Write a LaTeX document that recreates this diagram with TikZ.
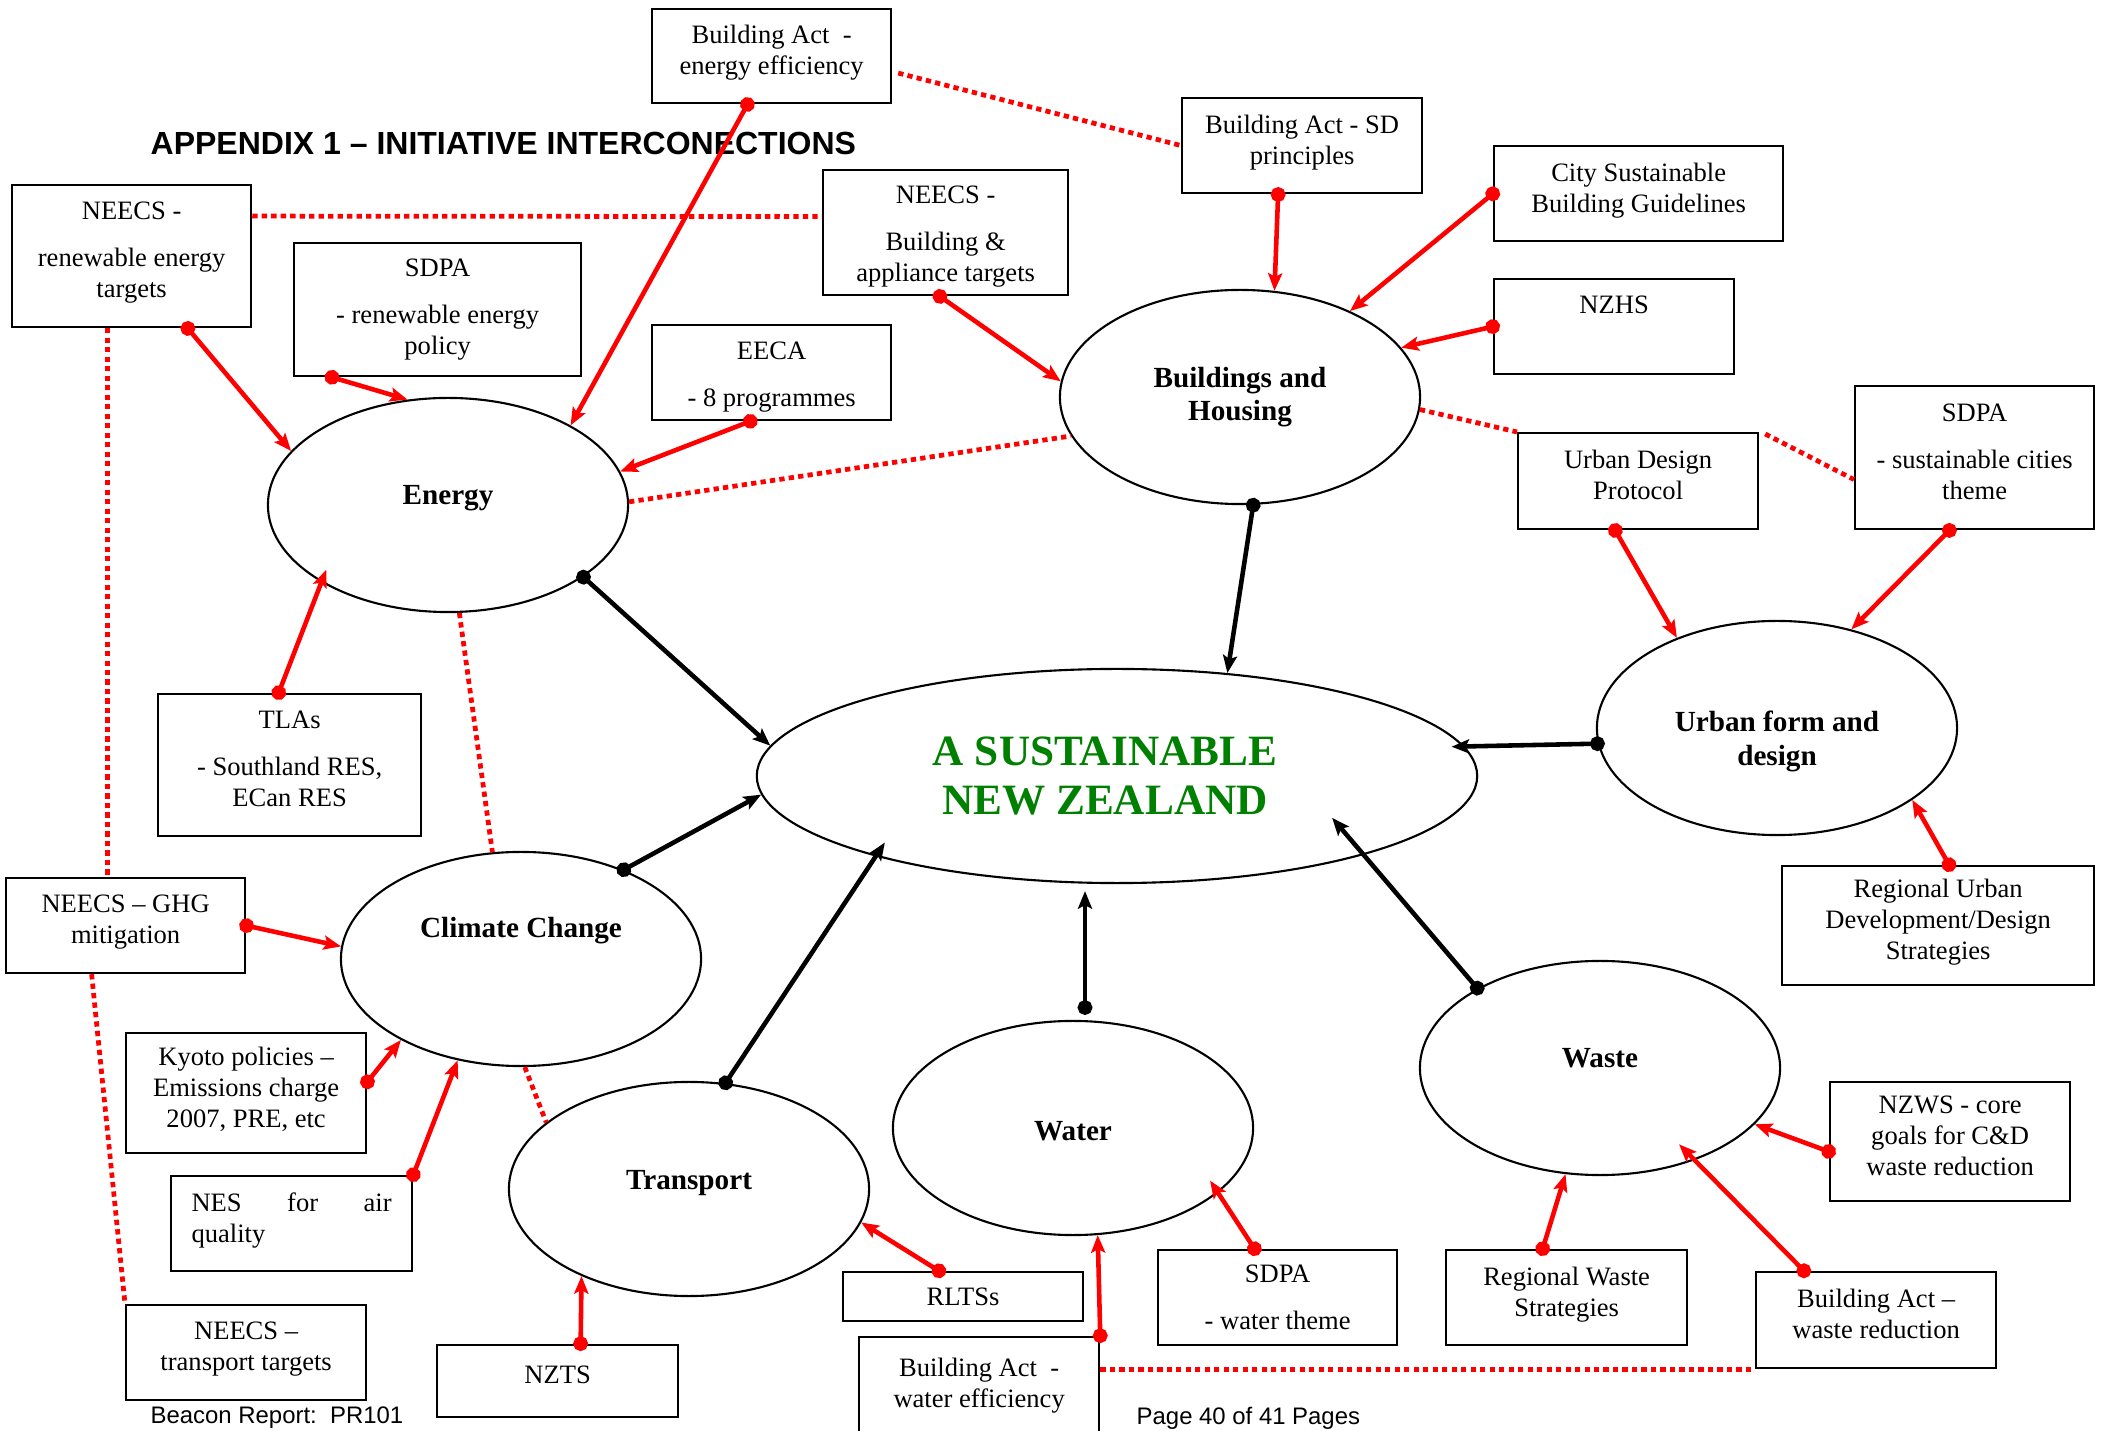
\documentclass[tikz,border=0pt]{standalone}
\usepackage{fontspec}
\setmainfont{Liberation Serif}
\newfontfamily\arialfont{Liberation Sans}
\usetikzlibrary{arrows.meta, calc, shapes.geometric}

\begin{document}
\begin{tikzpicture}[x=0.01cm, y=-0.01cm,
    boxtail/.store in=\boxtaildepth, boxtail=3.5pt,
    ibox/.style={draw, line width=0.6pt, anchor=north west, align=center, inner sep=1pt,
        minimum width=2.4cm, minimum height=0.95cm, font=\fontsize{7.55}{8.8}\selectfont,
        execute at end node={\rule[-\boxtaildepth]{0pt}{0pt}}},
    plain/.style={boxtail=0pt},
    topic/.style={draw, ellipse, line width=0.6pt, inner sep=0pt, minimum width=3.6cm,
        minimum height=2.14cm, align=center, font=\fontsize{8.3}{9.6}\selectfont\bfseries},
    feed/.style={red, line width=1.3pt, shorten <=-2pt,
        {Circle[length=4.2pt]}-{Stealth[length=5pt,width=4pt,inset=1pt]}},
    link/.style={feed, black},
    rel/.style={red, line width=1.35pt, dash pattern=on 1.5pt off 1.2pt}]
    \useasboundingbox (0,0) rectangle (2105,1431);

    % Title and footer
    \node[anchor=west, inner sep=0pt, font=\arialfont\fontsize{9.1}{10}\selectfont\bfseries] (title) at (150,143)
        {APPENDIX 1 \textendash{} INITIATIVE INTERCONECTIONS};
    \node[anchor=west, inner sep=0pt, font=\arialfont\fontsize{6.8}{8}\selectfont] (report) at (150,1418) {Beacon Report:\ \ PR101};
    \node[anchor=west, inner sep=0pt, font=\arialfont\fontsize{6.8}{8}\selectfont] (page) at (1136,1418) {Page 40 of 41 Pages};

    % Topic ellipses
    \node[topic, minimum width=7.2cm, font=\fontsize{12.3}{14}\selectfont\bfseries, text=green!50!black]
        (core) at (1117,776) {A SUSTAINABLE\hspace*{0.24cm}\\NEW ZEALAND\hspace*{0.24cm}};
    \node[topic, text height=6pt, text depth=6pt] (energy) at (448,505) {Energy};
    \node[topic] (bldg) at (1240,397) {Buildings and\\Housing};
    \node[topic] (urban) at (1777,728) {\rule{0pt}{13.4pt}Urban form and\\design};
    \node[topic, text height=6pt, text depth=18pt] (climate) at (521,959) {Climate Change};
    \node[topic, text height=6pt, text depth=6pt] (transport) at (689,1189) {Transport};
    \node[topic, text height=8pt, text depth=1pt] (water) at (1073,1128) {Water};
    \node[topic, text height=6pt, text depth=6pt] (waste) at (1600,1068) {Waste};

    % Initiative boxes
    \node[ibox, minimum width=2.39cm, minimum height=0.94cm] (baee) at (651,8) {Building Act\ \ -\\energy efficiency};
    \node[ibox] (basd) at (1181,97) {Building Act - SD\\principles};
    \node[ibox, minimum width=2.89cm] (csbg) at (1493,145) {City Sustainable\\Building Guidelines};
    \node[ibox] (nzhs) at (1493,278) {NZHS\\ \strut};
    \node[ibox, plain, minimum width=2.45cm, minimum height=1.25cm] (neecsba) at (822,169) {\rule{0pt}{7.2pt}NEECS -\\[4.5pt]Building \&\\appliance targets};
    \node[ibox, minimum width=2.39cm, minimum height=1.42cm] (neecsre) at (11,184) {NEECS -\\[4.5pt]renewable energy\\targets};
    \node[ibox, plain, minimum width=2.87cm, minimum height=1.33cm] (sdpare) at (293,242) {SDPA\\[4.5pt]- renewable energy\\policy};
    \node[ibox, plain, minimum width=2.39cm] (eeca) at (651,324) {\rule{0pt}{7.4pt}EECA\\[4.5pt]- 8 programmes};
    \node[ibox, minimum height=0.96cm] (udp) at (1517,432) {Urban Design\\Protocol};
    \node[ibox, minimum width=2.39cm, minimum height=1.43cm] (sdpasc) at (1854,385) {SDPA\\[4.5pt]- sustainable cities\\theme};
    \node[ibox, minimum width=2.63cm, minimum height=1.42cm] (tlas) at (157,693) {TLAs\\[4.5pt]- Southland RES,\\ECan RES};
    \node[ibox, minimum width=2.39cm] (ghg) at (5,877) {NEECS -- GHG\\mitigation};
    \node[ibox, minimum height=1.2cm] (kyoto) at (125,1032) {Kyoto policies --\\Emissions charge\\2007, PRE, etc};
    \node[ibox, minimum width=2.41cm, align=left, text width=2cm] (nes) at (170,1175) {NES\hfill for\hfill air\\quality};
    \node[ibox] (neecst) at (125,1304) {NEECS --\\transport targets};
    \node[ibox, minimum width=2.41cm, minimum height=0.72cm] (nzts) at (436,1344) {NZTS};
    \node[ibox, plain, minimum height=0.49cm] (rltss) at (842,1271) {RLTSs};
    \node[ibox, minimum height=1.04cm] (bawe) at (858,1336) {Building Act\ \ -\\water efficiency};
    \node[ibox, plain, minimum width=2.39cm] (sdpaw) at (1157,1249) {SDPA\\[4.5pt]- water theme};
    \node[ibox, minimum width=2.41cm] (rws) at (1445,1249) {Regional Waste\\Strategies};
    \node[ibox, minimum height=0.96cm] (bawr) at (1755,1271) {Building Act --\\waste reduction};
    \node[ibox, minimum height=1.19cm] (nzws) at (1829,1081) {NZWS - core\\goals for C\&D\\waste reduction};
    \node[ibox, minimum width=3.12cm, minimum height=1.19cm] (rud) at (1781,865) {Regional Urban\\Development/Design\\Strategies};

    % Dotted cross links
    \draw[rel] ($(baee.east)+(6,17)$) -- (basd.west);
    \draw[rel] ($(neecsre.east)+(0,-40)$) -- ($(neecsba.west)+(0,-16)$);
    \draw[rel] (energy.1) -- (bldg.193);
    \draw[rel] (bldg.-4) -- (udp.north west);
    \draw[rel] ($(udp.north east)+(6,2)$) -- ($(sdpasc.west)+(0,22)$);
    \draw[rel] ($(neecsre.south)+(-24,0)$) -- ($(ghg.north)+(-18,0)$);
    \draw[rel] ($(ghg.south)+(-34,0)$) -- (neecst.north west);
    \draw[rel] (energy.-84) -- (climate.105.5);
    \draw[rel] (climate.-88) -- (transport.155);
    \draw[rel] (bawe.east |- bawr.south west) -- (bawr.south west);

    % Initiatives feeding the topics
    \draw[feed] ($(baee.south)+(-24,0)$) -- (energy.33.6);
    \draw[feed] ($(neecsre.south)+(56,0)$) -- (energy.161);
    \draw[feed] ($(sdpare.south)+(-106,0)$) -- (energy.111);
    \draw[feed] ($(eeca.south)+(-21,0)$) -- (energy.11);
    \draw[feed] ($(tlas.north)+(-11,0)$) -- ($(energy.center)!0.9!(energy.208)$);
    \draw[feed] ($(neecsba.south)+(-6,0)$) -- (bldg.175.5);
    \draw[feed] ($(basd.south)+(-24,0)$) -- (bldg.72);
    \draw[feed] (csbg.west) -- (bldg.38);
    \draw[feed] (nzhs.west) -- (bldg.17);
    \draw[feed] ($(udp.south)+(-23,0)$) -- (urban.138);
    \draw[feed] ($(sdpasc.south)+(-25,0)$) -- (urban.53);
    \draw[feed] ($(rud.north)+(11,0)$) -- (urban.-28);
    \draw[feed] (ghg.east) -- (climate.176);
    \draw[feed] ($(kyoto.east)+(0,-11)$) -- (climate.214.6);
    \draw[feed] (nes.north east) -- (climate.238.6);
    \draw[feed] ($(nzts.north)+(23,0)$) -- (transport.219);
    \draw[feed] ($(rltss.north)+(-24,0)$) -- (transport.-11.6);
    \draw[feed] (bawe.north east) -- (water.-77.6);
    \draw[feed] ($(sdpaw.north)+(-23,0)$) -- ($(water.center)!0.9!(water.-21)$);
    \draw[feed] ($(rws.north)+(-24,0)$) -- (waste.252);
    \draw[feed] ($(bawr.north)+(-72,0)$) -- ($(waste.center)!0.83!(waste.-44)$);
    \draw[feed] ($(nzws.west)+(0,10)$) -- (waste.-20.6);

    % Topics into the centre
    \draw[link] (energy.-28.6) -- (core.175.4);
    \draw[link] (bldg.-83) -- (core.43);
    \draw[link] (urban.185) -- ($(core.center)!0.965!(core.5.5)$);
    \draw[link] (climate.41.3) -- (core.183);
    \draw[link] (transport.71.6) -- ($(core.center)!0.89!(core.196.5)$);
    \draw[link] ($(water.north)+(12,-12)$) -- ($(core.south)+(-32,7)$);
    \draw[link] (waste.147) -- ($(core.center)!0.71!(core.-11.3)$);
\end{tikzpicture}
\end{document}
